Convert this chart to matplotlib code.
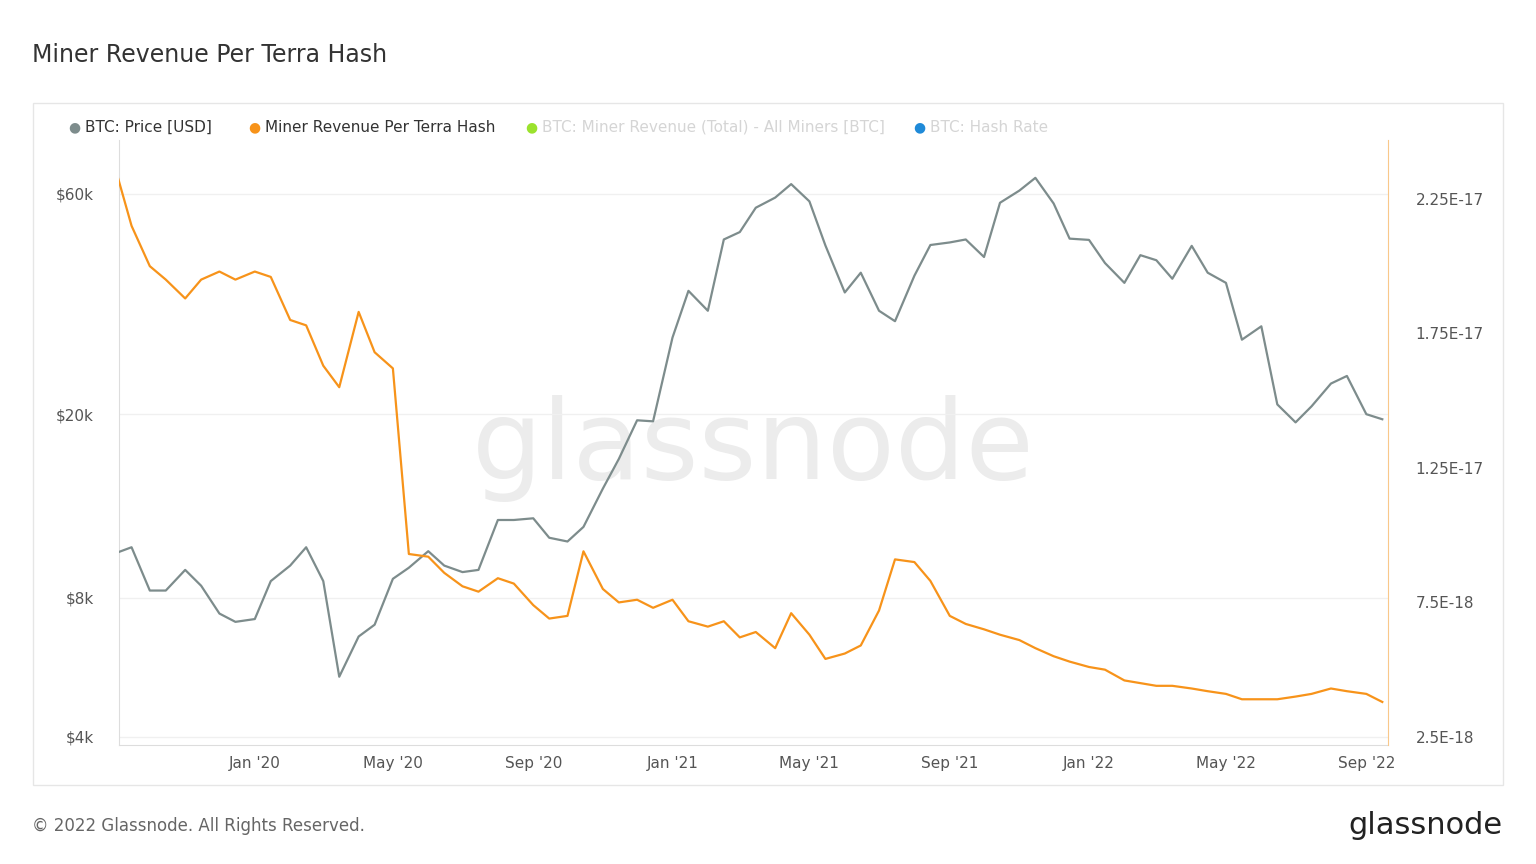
import matplotlib
matplotlib.use("Agg")
import matplotlib.pyplot as plt
import matplotlib.dates as mdates
from matplotlib.patches import Rectangle
import pandas as pd

dates = pd.date_range("2019-09-01", "2022-09-15", freq="SMS")
price_k = [10.0, 10.3, 8.3, 8.3, 9.2, 8.5, 7.4, 7.1,
           7.2, 8.7, 9.4, 10.3, 8.7, 5.4, 6.6, 7.0, 8.8, 9.3, 10.1, 9.4, 9.1, 9.2,
           11.8, 11.8, 11.9, 10.8, 10.6, 11.4, 13.8, 16.0, 19.4, 19.3,
           29.3, 37.0, 33.5, 47.8, 49.6, 56.0, 58.9, 63.0, 57.8, 46.4, 36.7, 40.5,
           33.5, 31.8, 39.9, 46.5, 47.1, 47.8, 43.8, 57.4, 61.0, 65.0, 57.2, 48.0,
           47.7, 42.5, 38.5, 44.2, 43.1, 39.3, 46.3, 40.5, 38.5, 29.0, 31.0, 21.0,
           19.2, 20.8, 23.3, 24.2, 20.0, 19.5]
rev_e18 = [23.6, 21.5, 20.0, 19.5, 18.8, 19.5, 19.8, 19.5,
           19.8, 19.6, 18.0, 17.8, 16.3, 15.5, 18.3, 16.8, 16.2, 9.3, 9.2, 8.6, 8.1, 7.9,
           8.4, 8.2, 7.4, 6.9, 7.0, 9.4, 8.0, 7.5, 7.6, 7.3,
           7.6, 6.8, 6.6, 6.8, 6.2, 6.4, 5.8, 7.1, 6.3, 5.4, 5.6, 5.9,
           7.2, 9.1, 9.0, 8.3, 7.0, 6.7, 6.5, 6.3, 6.1, 5.8, 5.5, 5.3,
           5.1, 5.0, 4.6, 4.5, 4.4, 4.4, 4.3, 4.2, 4.1, 3.9, 3.9, 3.9,
           4.0, 4.1, 4.3, 4.2, 4.1, 3.8]
left_ticks = [4000, 8000, 20000, 60000]
left_labels = ["$4k", "$8k", "$20k", "$60k"]
right_ticks = [2.5e-18, 7.5e-18, 1.25e-17, 1.75e-17, 2.25e-17]
right_labels = ["2.5E-18", "7.5E-18", "1.25E-17", "1.75E-17", "2.25E-17"]

GRAY = "#7d8c8c"
ORANGE = "#f7931a"

fig = plt.figure(figsize=(15.36, 8.64), dpi=100)
fig.patch.set_facecolor("white")
fig.text(32/1536, 1-55/864, "Miner Revenue Per Terra Hash", fontsize=17, color="#333333", va="center")
fig.patches.append(Rectangle((33/1536, 1-785/864), 1470/1536, 682/864, transform=fig.transFigure,
                             fill=False, edgecolor="#e6e6e6", lw=1))
fig.text(32/1536, 1-826/864, "© 2022 Glassnode. All Rights Reserved.", fontsize=12, color="#666666", va="center")
fig.text(1503/1536, 1-825/864, "glassnode", fontsize=22, color="#222222", va="center", ha="right")

items = [("BTC: Price [USD]", GRAY, "#333333", 68),
         ("Miner Revenue Per Terra Hash", ORANGE, "#333333", 248),
         ("BTC: Miner Revenue (Total) - All Miners [BTC]", "#9be22d", "#d5d5d5", 525),
         ("BTC: Hash Rate", "#1f8ad8", "#d5d5d5", 913)]
for lab, mc, tc, x in items:
    fig.text(x/1536, 1-127/864, "●", color=mc, fontsize=10, va="center")
    fig.text((x+17)/1536, 1-127/864, lab, color=tc, fontsize=11, va="center")

ax = fig.add_axes([119/1536, 1-745/864, 1269/1536, 605/864])
ax2 = ax.twinx()
ax.text(0.5, 0.49, "glassnode", transform=ax.transAxes, fontsize=80, color="#ececec",
        ha="center", va="center", zorder=0)
ax.plot(dates, [p*1000 for p in price_k], color=GRAY, lw=1.6, zorder=3)
ax.set_yscale("log")
ax.set_ylim(3842, 78500)
ax.set_yticks(left_ticks)
ax.set_yticklabels(left_labels)
ax.minorticks_off()
ax2.plot(dates, [v*1e-18 for v in rev_e18], color=ORANGE, lw=1.6)
ax2.set_ylim(2.2e-18, 24.69e-18)
ax2.set_yticks(right_ticks)
ax2.set_yticklabels(right_labels)
ax.set_xlim(pd.Timestamp("2019-09-04"), pd.Timestamp("2022-09-20"))
ax.set_xticks([pd.Timestamp(d) for d in ["2020-01-01", "2020-05-01", "2020-09-01", "2021-01-01",
                                         "2021-05-01", "2021-09-01", "2022-01-01", "2022-05-01", "2022-09-01"]])
ax.xaxis.set_major_formatter(mdates.DateFormatter("%b '%y"))
ax.grid(axis="y", color="#f0f0f0", lw=1)
for a in (ax, ax2):
    a.spines["top"].set_visible(False)
    a.tick_params(length=0, labelsize=11, colors="#555555", pad=8)
ax.spines["left"].set_color("#dddddd")
ax.spines["bottom"].set_color("#dddddd")
ax.spines["right"].set_visible(False)
ax2.spines["left"].set_visible(False)
ax2.spines["bottom"].set_visible(False)
ax2.spines["right"].set_color("#f9c88a")
ax.tick_params(axis="y", pad=18)
ax2.tick_params(axis="y", pad=20)
fig.savefig("out.png", dpi=100)
